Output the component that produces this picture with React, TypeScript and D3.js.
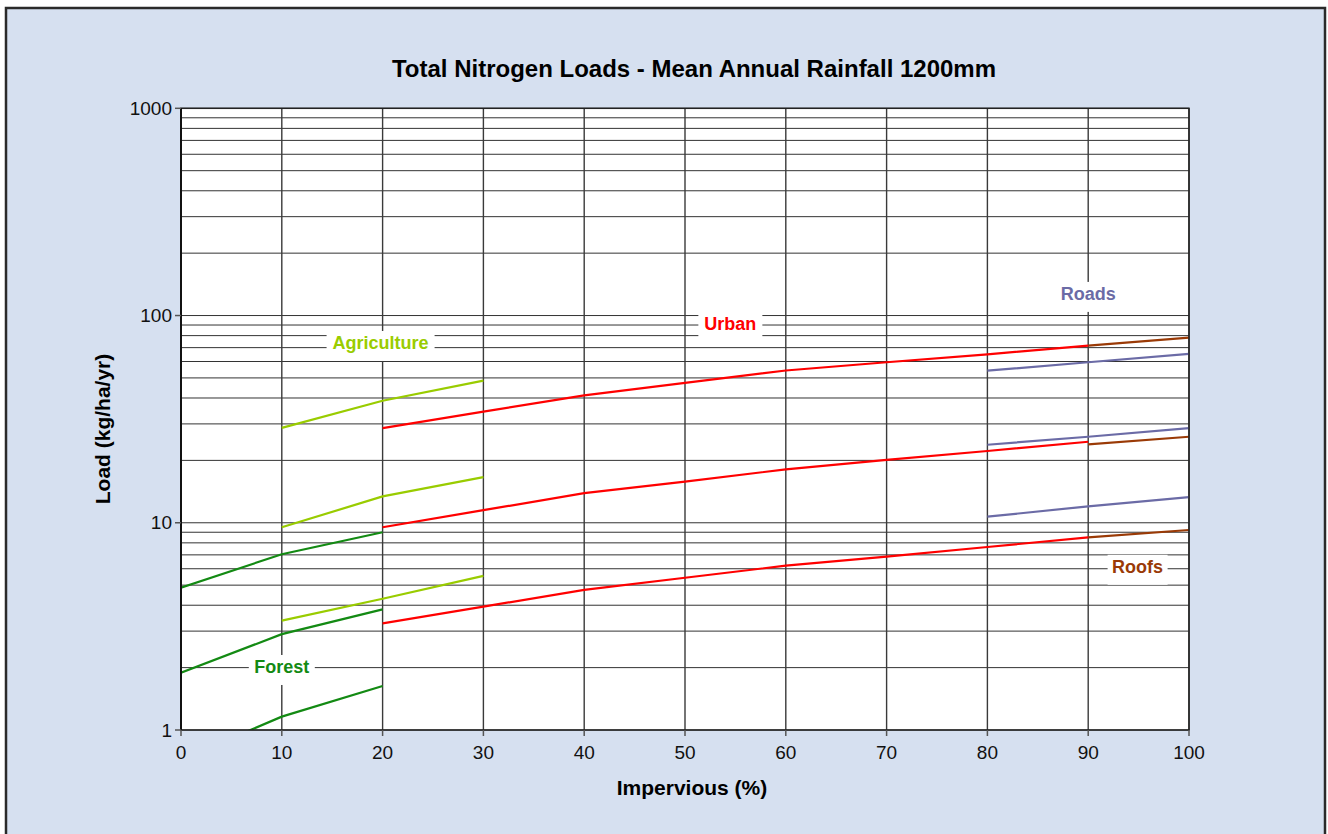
import React from "react";
import * as d3 from "d3";

// Impervious fraction (%) breakpoints used by each land-use curve
const forestX = [0, 10, 20];
const agricultureX = [10, 20, 30];
const urbanX = [20, 30, 40, 50, 60, 70, 80, 90];
const roofsX = [90, 100];
const roadsX = [80, 90, 100];

// Total nitrogen load (kg/ha/yr) — three curves per land use
const forestHigh = [4.86, 7.05, 9.0];
const forestMid = [1.89, 2.9, 3.82];
const forestLow = [0.72, 1.16, 1.63];

const agricultureHigh = [28.7, 38.8, 48.5];
const agricultureMid = [9.51, 13.4, 16.6];
const agricultureLow = [3.37, 4.3, 5.54];

const urbanHigh = [28.6, 34.4, 41.2, 47.3, 54.3, 59.5, 65.0, 71.6];
const urbanMid = [9.51, 11.5, 13.9, 15.8, 18.1, 20.1, 22.2, 24.6];
const urbanLow = [3.27, 3.94, 4.74, 5.43, 6.21, 6.86, 7.64, 8.51];

const roofsHigh = [71.6, 78.2];
const roofsMid = [23.9, 26.0];
const roofsLow = [8.51, 9.23];

const roadsHigh = [54.2, 59.5, 65.3];
const roadsMid = [23.8, 26.0, 28.6];
const roadsLow = [10.7, 12.0, 13.3];

const xTicks = [0, 10, 20, 30, 40, 50, 60, 70, 80, 90, 100];
const yTickLabels = [1, 10, 100, 1000];

const TITLE = "Total Nitrogen Loads - Mean Annual Rainfall 1200mm";
const X_TITLE = "Impervious (%)";
const Y_TITLE = "Load (kg/ha/yr)";

const COLORS = {
  forest: "#138a13",
  agriculture: "#99cc00",
  urban: "#ff0000",
  roofs: "#9a3a06",
  roads: "#6b6ba6",
};

type Series = { key: keyof typeof COLORS; xs: number[]; ys: number[] };

const series: Series[] = [
  { key: "roads", xs: roadsX, ys: roadsHigh },
  { key: "roads", xs: roadsX, ys: roadsMid },
  { key: "roads", xs: roadsX, ys: roadsLow },
  { key: "roofs", xs: roofsX, ys: roofsHigh },
  { key: "roofs", xs: roofsX, ys: roofsMid },
  { key: "roofs", xs: roofsX, ys: roofsLow },
  { key: "forest", xs: forestX, ys: forestHigh },
  { key: "forest", xs: forestX, ys: forestMid },
  { key: "forest", xs: forestX, ys: forestLow },
  { key: "agriculture", xs: agricultureX, ys: agricultureHigh },
  { key: "agriculture", xs: agricultureX, ys: agricultureMid },
  { key: "agriculture", xs: agricultureX, ys: agricultureLow },
  { key: "urban", xs: urbanX, ys: urbanHigh },
  { key: "urban", xs: urbanX, ys: urbanMid },
  { key: "urban", xs: urbanX, ys: urbanLow },
];

// Curve labels, anchored in data space (centre of the white box)
const curveLabels: { text: string; key: keyof typeof COLORS; x: number; y: number; w: number }[] = [
  { text: "Agriculture", key: "agriculture", x: 19.8, y: 71.3, w: 108 },
  { text: "Urban", key: "urban", x: 54.5, y: 88.1, w: 64 },
  { text: "Roads", key: "roads", x: 90, y: 123, w: 66 },
  { text: "Roofs", key: "roofs", x: 94.9, y: 5.93, w: 60 },
  { text: "Forest", key: "forest", x: 10, y: 1.948, w: 66 },
];

const W = 1328;
const H = 834;
const FONT = "'Liberation Sans', Arial, sans-serif";

export default function App() {
  const x = d3.scaleLinear().domain([0, 100]).range([181, 1189]);
  const y = d3.scaleLog().domain([1, 1000]).range([730, 108.3]);
  const [x0, x1] = x.range();
  const [yb, yt] = y.range();

  const gridValues: number[] = [];
  for (const dec of [1, 10, 100]) {
    for (let k = 1; k <= 9; k++) gridValues.push(k * dec);
  }
  gridValues.push(1000);

  const line = d3
    .line<[number, number]>()
    .x((d) => x(d[0]))
    .y((d) => y(d[1]));

  return (
    <svg
      width={W}
      height={H}
      style={{ position: "absolute", left: 0, top: 0, display: "block" }}
      fontFamily={FONT}
    >
      <rect x={0} y={0} width={W} height={H} fill="#ffffff" />
      <rect x={6} y={8} width={1319} height={H + 10} fill="#d6e0f0" stroke="#2a2a2a" strokeWidth={2.5} />

      <text x={694} y={77} textAnchor="middle" fontSize={24} fontWeight="bold" fill="#000">
        {TITLE}
      </text>

      <defs>
        <clipPath id="plot-clip">
          <rect x={x0} y={yt} width={x1 - x0} height={yb - yt} />
        </clipPath>
      </defs>

      <rect x={x0} y={yt} width={x1 - x0} height={yb - yt} fill="#ffffff" />

      {/* horizontal log grid */}
      {gridValues.map((v) => (
        <line key={"h" + v} x1={x0} x2={x1} y1={y(v)} y2={y(v)} stroke="#333" strokeWidth={1} />
      ))}
      {/* vertical grid */}
      {xTicks.map((v) => (
        <line key={"v" + v} x1={x(v)} x2={x(v)} y1={yt} y2={yb} stroke="#3a3a3a" strokeWidth={1.4} />
      ))}

      {/* label backgrounds cover the grid */}
      {curveLabels.map((l) => (
        <rect
          key={"bg" + l.text}
          x={x(l.x) - l.w / 2}
          y={y(l.y) - 15}
          width={l.w}
          height={30}
          fill="#ffffff"
        />
      ))}

      <g clipPath="url(#plot-clip)">
        {series.map((s, i) => (
          <path
            key={i}
            d={line(s.xs.map((v, j) => [v, s.ys[j]] as [number, number])) || ""}
            fill="none"
            stroke={COLORS[s.key]}
            strokeWidth={2.2}
          />
        ))}
      </g>

      {curveLabels.map((l) => (
        <text
          key={"t" + l.text}
          x={x(l.x)}
          y={y(l.y) + 3.5}
          textAnchor="middle"
          fontSize={18}
          fontWeight="bold"
          fill={COLORS[l.key]}
        >
          {l.text}
        </text>
      ))}

      {/* frame */}
      <rect x={x0} y={yt} width={x1 - x0} height={yb - yt} fill="none" stroke="#222" strokeWidth={1.5} />
      <line x1={x0} x2={x0} y1={yt} y2={yb} stroke="#111" strokeWidth={2} />

      {/* y axis ticks and labels */}
      {yTickLabels.map((v) => (
        <g key={"yt" + v}>
          <line x1={x0 - 6} x2={x0} y1={y(v)} y2={y(v)} stroke="#555" strokeWidth={1.5} />
          <text x={x0 - 9} y={y(v) + 6.5} textAnchor="end" fontSize={19} fill="#111">
            {v}
          </text>
        </g>
      ))}

      {/* x axis ticks and labels */}
      {xTicks.map((v) => (
        <g key={"xt" + v}>
          <line x1={x(v)} x2={x(v)} y1={yb} y2={yb + 6} stroke="#555" strokeWidth={1.5} />
          <text x={x(v)} y={759} textAnchor="middle" fontSize={19} fill="#111">
            {v}
          </text>
        </g>
      ))}

      <text x={692} y={795} textAnchor="middle" fontSize={21} fontWeight="bold" fill="#000">
        {X_TITLE}
      </text>
      <text
        transform={`translate(110, 429) rotate(-90)`}
        textAnchor="middle"
        fontSize={21}
        fontWeight="bold"
        fill="#000"
      >
        {Y_TITLE}
      </text>
    </svg>
  );
}
